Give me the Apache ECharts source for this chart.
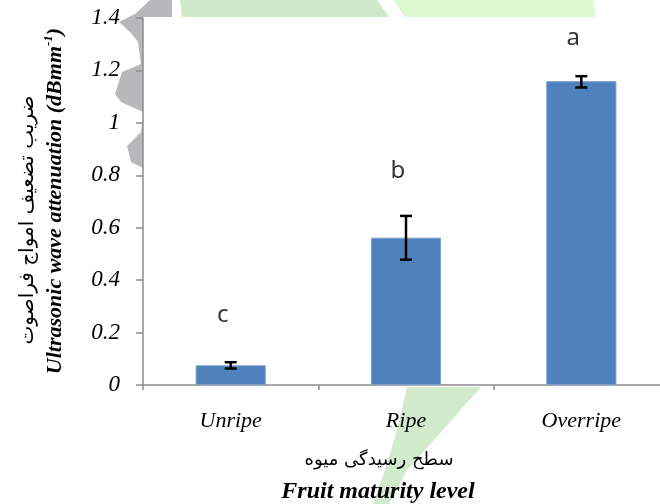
<!DOCTYPE html>
<html>
<head>
<meta charset="utf-8">
<script src="https://cdn.jsdelivr.net/npm/echarts@6/dist/echarts.min.js"></script>
<style>
  html, body { margin: 0; padding: 0; background: #fff; }
  #main { width: 660px; height: 504px; }
</style>
</head>
<body>
<div id="main"></div>
<script>
var categories = ['Unripe', 'Ripe', 'Overripe'];
var means = [0.075, 0.562, 1.159];
var errLow = [0.063, 0.478, 1.135];
var errHigh = [0.087, 0.645, 1.178];
var letters = ['c', 'b', 'a'];
var letterY = [0.268, 0.816, 1.322];

var serif = '"Liberation Serif", "DejaVu Serif", serif';
var axisGray = '#8c8c8c';

// faint watermark shapes behind the chart
var gearPts = [[150,0],[172,0],[172,17],[143,17],[143,168],[131,162],[127,146],[141,132],[143,112],
  [121,102],[115,94],[122,72],[141,64],[138,42],[131,33],[119,22],[135,14]];

var myChart = echarts.init(document.getElementById('main'));

var option = {
  animation: false,
  backgroundColor: '#fff',
  grid: { left: 143, top: 18, width: 526, height: 367, containLabel: false, outerBoundsMode: 'none' },
  xAxis: {
    type: 'category',
    data: categories,
    boundaryGap: true,
    axisLine: { lineStyle: { color: axisGray, width: 1.5 } },
    axisTick: { show: true, length: 5, lineStyle: { color: axisGray, width: 1.5 } },
    axisLabel: { fontFamily: serif, fontStyle: 'italic', fontSize: 22, color: '#000', margin: 25 }
  },
  yAxis: {
    type: 'value',
    min: 0,
    max: 1.4,
    interval: 0.2,
    splitLine: { show: false },
    axisLine: { show: true, lineStyle: { color: axisGray, width: 1.5 } },
    axisTick: { show: true, length: 7, lineStyle: { color: axisGray, width: 1.5 } },
    axisLabel: { fontFamily: serif, fontStyle: 'italic', fontSize: 23, color: '#000', margin: 23 }
  },
  graphic: [
    { type: 'polygon', z: -10, shape: { points: gearPts }, style: { fill: '#b6b8ba' } },
    { type: 'polygon', z: -10, shape: { points: [[180,0],[377,0],[389,17],[182,17]] }, style: { fill: '#cfe8c9' } },
    { type: 'polygon', z: -10, shape: { points: [[393,0],[593,0],[596,17],[405,17]] }, style: { fill: '#dcf9d0' } },
    { type: 'polygon', z: -10, shape: { points: [[407,387],[481,387],[443,430],[407,470],[389,504],[373,504],[385,470],[397,430]] }, style: { fill: '#d3ebcd' } },
    {
      type: 'text', x: 28, y: 220, rotation: Math.PI / 2,
      style: {
        text: 'ضریب تضعیف امواج فراصوت',
        font: '20px "DejaVu Sans"', fill: '#000',
        textAlign: 'center', textVerticalAlign: 'middle'
      }
    },
    {
      type: 'text', x: 55, y: 201, rotation: Math.PI / 2,
      style: {
        text: '{m|Ultrasonic wave attenuation (dBmm}{s|-1}{m|)}',
        textAlign: 'center', textVerticalAlign: 'middle',
        rich: {
          m: { fontFamily: serif, fontStyle: 'italic', fontWeight: 'bold', fontSize: 22, lineHeight: 26, fill: '#000' },
          s: { fontFamily: serif, fontStyle: 'italic', fontWeight: 'bold', fontSize: 13, lineHeight: 26, verticalAlign: 'top', fill: '#000' }
        }
      }
    },
    {
      type: 'text', x: 379, y: 460,
      style: {
        text: 'سطح رسیدگی میوه',
        font: '18px "DejaVu Sans"', fill: '#000',
        textAlign: 'center', textVerticalAlign: 'middle'
      }
    },
    {
      type: 'text', x: 378, y: 492,
      style: {
        text: 'Fruit maturity level',
        font: 'italic bold 24px "Liberation Serif"', fill: '#000',
        textAlign: 'center', textVerticalAlign: 'middle'
      }
    }
  ],
  series: [
    {
      type: 'bar',
      data: means,
      barWidth: '40%',
      itemStyle: { color: '#4f81bd', borderColor: '#7b9fcf', borderWidth: 1 }
    },
    {
      type: 'custom',
      data: categories.map(function (c, i) { return [i, errLow[i], errHigh[i]]; }),
      encode: { x: 0, y: [1, 2] },
      z: 5,
      renderItem: function (params, api) {
        var lo = api.coord([api.value(0), api.value(1)]);
        var hi = api.coord([api.value(0), api.value(2)]);
        var half = 6;
        var st = { stroke: '#000', lineWidth: 2.5 };
        return {
          type: 'group',
          children: [
            { type: 'line', shape: { x1: hi[0], y1: hi[1], x2: lo[0], y2: lo[1] }, style: st },
            { type: 'line', shape: { x1: hi[0] - half, y1: hi[1], x2: hi[0] + half, y2: hi[1] }, style: st },
            { type: 'line', shape: { x1: lo[0] - half, y1: lo[1], x2: lo[0] + half, y2: lo[1] }, style: st }
          ]
        };
      }
    },
    {
      type: 'scatter',
      data: letterY.map(function (v, i) { return [i, v]; }),
      symbolSize: 0,
      label: {
        show: true,
        position: 'inside',
        offset: [-8, 0],
        formatter: function (p) { return letters[p.dataIndex]; },
        fontFamily: '"Noto Sans", sans-serif',
        fontSize: 24,
        color: '#000'
      }
    }
  ]
};

myChart.setOption(option);
</script>
</body>
</html>
